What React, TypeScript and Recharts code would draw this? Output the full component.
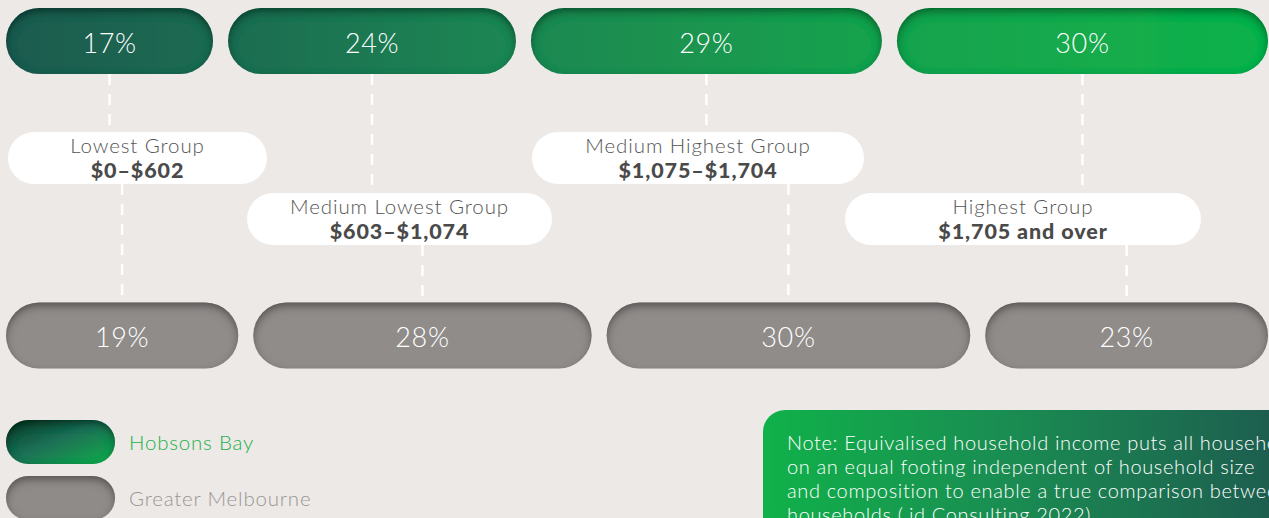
import { BarChart, Bar, XAxis, YAxis } from "recharts";

const groups = ["Lowest Group", "Medium Lowest Group", "Medium Highest Group", "Highest Group"];
const ranges = ["$0–$602", "$603–$1,074", "$1,075–$1,704", "$1,705 and over"];
const areas = ["Hobsons Bay", "Greater Melbourne"];
const hobsonsBay = [17, 24, 29, 30];
const greaterMelbourne = [19, 28, 30, 23];

const keys = ["g0", "g1", "g2", "g3"];
const series = [hobsonsBay, greaterMelbourne];

const rows = areas.map((area, r) => {
    const row: Record<string, string | number> = { area };
    keys.forEach((k, i) => (row[k] = series[r][i]));
    return row;
});

// layout (page coords)
const W = 1269;
const H = 518;
const CHART_TOP = -106;
const GAP = 15;
const FONT = "Lato, 'Open Sans', sans-serif";
const boxes = [
    { left: 8, top: 132, width: 259 },
    { left: 247, top: 193, width: 305 },
    { left: 532, top: 132, width: 332 },
    { left: 845, top: 193, width: 356 },
];
const BOX_H = 52;

// eslint-disable-next-line @typescript-eslint/no-explicit-any
function Pill(props: any) {
    const { x, y, width, height, payload, seg, index } = props;
    const li = seg === 0 ? 0 : GAP / 2;
    const ri = seg === keys.length - 1 ? 0 : GAP / 2;
    const px = x + li;
    const pw = width - li - ri;
    const cx = px + pw / 2;
    const cy = y + height / 2;
    const box = boxes[seg];
    const lineY1 = index === 0 ? y + height : box.top + BOX_H - CHART_TOP;
    const lineY2 = index === 0 ? box.top - CHART_TOP : y;
    return (
        <g>
            <line
                x1={cx}
                x2={cx}
                y1={lineY1}
                y2={lineY2}
                stroke="#ffffff"
                strokeWidth={2.5}
                strokeDasharray="11 9"
            />
            <rect
                x={px}
                y={y}
                width={pw}
                height={height}
                rx={height / 2}
                ry={height / 2}
                fill={index === 0 ? "url(#hbGrad)" : "#908c8a"}
                filter="url(#innerShadow)"
            />
            <text
                x={cx}
                y={cy + 1}
                textAnchor="middle"
                dominantBaseline="central"
                fill="#ffffff"
                fontSize={27}
                fontWeight={300}
                fontFamily={FONT}
                letterSpacing={0.6}
            >
                {payload[keys[seg]]}%
            </text>
        </g>
    );
}

function LegendPill({ green }: { green: boolean }) {
    return (
        <svg width={109} height={44} style={{ display: "block" }}>
            <defs>
                <linearGradient id={green ? "lgG" : "lgM"} x1="0" y1="0" x2="1" y2="1">
                    {green ? (
                        <>
                            <stop offset="0%" stopColor="#0d3b27" />
                            <stop offset="45%" stopColor="#1b6e55" />
                            <stop offset="100%" stopColor="#17b04b" />
                        </>
                    ) : (
                        <>
                            <stop offset="0%" stopColor="#8f8b89" />
                            <stop offset="100%" stopColor="#8f8b89" />
                        </>
                    )}
                </linearGradient>
            </defs>
            <rect
                x={0}
                y={0}
                width={109}
                height={44}
                rx={22}
                fill={`url(#${green ? "lgG" : "lgM"})`}
                filter="url(#innerShadow)"
            />
        </svg>
    );
}

export default function App() {
    return (
        <div
            style={{
                position: "fixed",
                left: 0,
                top: 0,
                width: W,
                height: H,
                overflow: "hidden",
                background: "#ece9e6",
                fontFamily: FONT,
            }}
        >
            <div style={{ position: "absolute", left: 0, top: CHART_TOP }}>
                <BarChart
                    width={W}
                    height={589}
                    layout="vertical"
                    data={rows}
                    margin={{ top: 0, right: 1, left: 6, bottom: 0 }}
                    barSize={66}
                >
                    <defs>
                        <linearGradient id="hbGrad" gradientUnits="userSpaceOnUse" x1="6" y1="0" x2="1268" y2="0">
                            <stop offset="0" stopColor="#1f5b50" />
                            <stop offset="0.16" stopColor="#1d6a51" />
                            <stop offset="0.39" stopColor="#1b8552" />
                            <stop offset="0.66" stopColor="#19a04e" />
                            <stop offset="1" stopColor="#0fb24b" />
                        </linearGradient>
                        <filter id="innerShadow" x="-10%" y="-30%" width="120%" height="160%">
                            <feComponentTransfer in="SourceAlpha" result="inv">
                                <feFuncA type="table" tableValues="1 0" />
                            </feComponentTransfer>
                            <feGaussianBlur in="inv" stdDeviation="4.5" result="blur" />
                            <feOffset in="blur" dx="0" dy="4" result="off" />
                            <feFlood floodColor="#000000" floodOpacity="0.7" result="col" />
                            <feComposite in="col" in2="off" operator="in" result="sh" />
                            <feComposite in="sh" in2="SourceAlpha" operator="in" result="inner" />
                            <feMerge>
                                <feMergeNode in="SourceGraphic" />
                                <feMergeNode in="inner" />
                            </feMerge>
                        </filter>
                    </defs>
                    <XAxis type="number" domain={[0, 100]} hide />
                    <YAxis type="category" dataKey="area" hide />
                    {keys.map((k, i) => (
                        <Bar
                            key={k}
                            dataKey={k}
                            name={groups[i]}
                            stackId="income"
                            isAnimationActive={false}
                            // eslint-disable-next-line @typescript-eslint/no-explicit-any
                            shape={(p: any) => <Pill {...p} seg={i} />}
                        />
                    ))}
                </BarChart>
            </div>

            {boxes.map((b, i) => (
                <div
                    key={groups[i]}
                    style={{
                        position: "absolute",
                        left: b.left,
                        top: b.top,
                        width: b.width,
                        height: BOX_H,
                        borderRadius: BOX_H / 2,
                        background: "#ffffff",
                        textAlign: "center",
                        lineHeight: "25px",
                        paddingTop: 1,
                        boxSizing: "border-box",
                        whiteSpace: "nowrap",
                    }}
                >
                    <div style={{ fontSize: 20.5, color: "#555555", fontWeight: 300, letterSpacing: 0.9 }}>
                        {groups[i]}
                    </div>
                    <div style={{ fontSize: 21.5, color: "#4a4a4a", fontWeight: 900, letterSpacing: 0.9 }}>
                        {ranges[i]}
                    </div>
                </div>
            ))}

            {areas.map((a, i) => (
                <div
                    key={a}
                    style={{
                        position: "absolute",
                        left: 6,
                        top: 420 + i * 56,
                        display: "flex",
                        alignItems: "center",
                    }}
                >
                    <LegendPill green={i === 0} />
                    <span
                        style={{
                            marginLeft: 14,
                            fontSize: 20.5,
                            fontWeight: 300,
                            letterSpacing: 0.8,
                            color: i === 0 ? "#1db04b" : "#9a9694",
                        }}
                    >
                        {a}
                    </span>
                </div>
            ))}

            <div
                style={{
                    position: "absolute",
                    left: 763,
                    top: 410,
                    width: 540,
                    height: 140,
                    borderTopLeftRadius: 22,
                    background: "linear-gradient(90deg, #10b14a 0%, #1a8d52 45%, #1d5e4f 94%)",
                    color: "#ffffff",
                    fontSize: 20,
                    fontWeight: 300,
                    letterSpacing: 0.65,
                    lineHeight: "24px",
                    padding: "20px 0 0 24px",
                    boxSizing: "border-box",
                    whiteSpace: "nowrap",
                }}
            >
                Note: Equivalised household income puts all households
                <br />
                on an equal footing independent of household size
                <br />
                and composition to enable a true comparison between
                <br />
                households (.id Consulting 2022).
            </div>
        </div>
    );
}
